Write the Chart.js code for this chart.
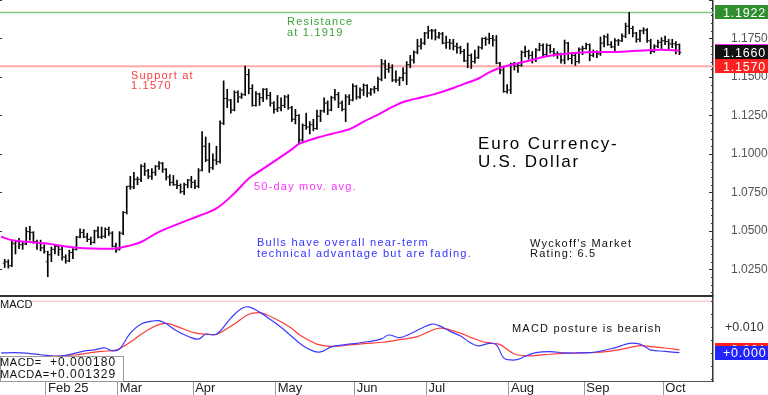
<!DOCTYPE html>
<html>
<head>
<meta charset="utf-8">
<title>Euro Currency - U.S. Dollar</title>
<script src="https://cdn.jsdelivr.net/npm/chart.js@4.4.1/dist/chart.umd.min.js"></script>
<style>
  html, body { margin: 0; padding: 0; background: #fff; }
  #wrap { width: 768px; height: 395px; }
</style>
</head>
<body>
<div id="wrap"><canvas id="chart" width="768" height="395"></canvas></div>
<script>
// Daily bars, mid-Jan to early Oct (index 0 = first bar)
const opens = [
  1.0290, 1.0298, 1.0275, 1.0415, 1.0430, 1.0410, 1.0415, 1.0495, 1.0490, 1.0430, 1.0420, 1.0390,
  1.0300, 1.0345, 1.0380, 1.0400, 1.0380, 1.0330, 1.0305, 1.0360, 1.0380, 1.0460, 1.0490, 1.0460, 1.0445, 1.0425, 1.0500, 1.0460, 1.0465, 1.0510, 1.0485, 1.0400,
  1.0380, 1.0485, 1.0620, 1.0790, 1.0785, 1.0835, 1.0835, 1.0920, 1.0890, 1.0855, 1.0880, 1.0920, 1.0940, 1.0900, 1.0850, 1.0815, 1.0800, 1.0795, 1.0755, 1.0800, 1.0830,
  1.0815, 1.0790, 1.0895, 1.1050, 1.0960, 1.0910, 1.0960, 1.0950, 1.1200, 1.1360, 1.1350, 1.1285, 1.1400, 1.1370, 1.1385, 1.1515, 1.1425, 1.1315, 1.1390, 1.1365, 1.1420, 1.1380,
  1.1330, 1.1290, 1.1300, 1.1315, 1.1370, 1.1300, 1.1225, 1.1250, 1.1090, 1.1185, 1.1175, 1.1190, 1.1165, 1.1245, 1.1280, 1.1330, 1.1285, 1.1365, 1.1385, 1.1330, 1.1290, 1.1370,
  1.1350, 1.1440, 1.1370, 1.1415, 1.1445, 1.1395, 1.1420, 1.1425, 1.1485, 1.1585, 1.1550, 1.1560, 1.1480, 1.1480, 1.1495, 1.1525, 1.1580, 1.1610, 1.1660, 1.1700, 1.1720,
  1.1785, 1.1800, 1.1800, 1.1760, 1.1780, 1.1720, 1.1725, 1.1720, 1.1700, 1.1690, 1.1665, 1.1605, 1.1640, 1.1600, 1.1625, 1.1690, 1.1750, 1.1745, 1.1750, 1.1740, 1.1590, 1.1545, 1.1405,
  1.1415, 1.1585, 1.1570, 1.1575, 1.1660, 1.1665, 1.1640, 1.1615, 1.1675, 1.1705, 1.1645, 1.1705, 1.1665, 1.1650, 1.1650, 1.1610, 1.1720, 1.1620, 1.1640, 1.1600, 1.1680,
  1.1685, 1.1710, 1.1640, 1.1660, 1.1650, 1.1720, 1.1760, 1.1710, 1.1695, 1.1735, 1.1735, 1.1765, 1.1830, 1.1815, 1.1785, 1.1745, 1.1800, 1.1805, 1.1735, 1.1665, 1.1700, 1.1725,
  1.1735, 1.1730, 1.1715, 1.1715, 1.1710
];
const highs = [
  1.0315, 1.0312, 1.0440, 1.0440, 1.0452, 1.0425, 1.0522, 1.0530, 1.0495, 1.0440, 1.0440, 1.0410,
  1.0368, 1.0395, 1.0410, 1.0405, 1.0400, 1.0345, 1.0375, 1.0385, 1.0465, 1.0513, 1.0510, 1.0485, 1.0460, 1.0505, 1.0527, 1.0525, 1.0520, 1.0525, 1.0495, 1.0420,
  1.0495, 1.0625, 1.0790, 1.0855, 1.0880, 1.0850, 1.0930, 1.0940, 1.0900, 1.0905, 1.0925, 1.0950, 1.0945, 1.0905, 1.0865, 1.0860, 1.0830, 1.0805, 1.0810, 1.0835, 1.0855,
  1.0830, 1.0905, 1.1145, 1.1110, 1.1070, 1.1000, 1.1050, 1.1215, 1.1475, 1.1420, 1.1355, 1.1410, 1.1410, 1.1395, 1.1570, 1.1550, 1.1450, 1.1405, 1.1395, 1.1425, 1.1425, 1.1400,
  1.1340, 1.1380, 1.1365, 1.1380, 1.1385, 1.1310, 1.1290, 1.1255, 1.1195, 1.1265, 1.1210, 1.1225, 1.1285, 1.1285, 1.1365, 1.1345, 1.1375, 1.1420, 1.1400, 1.1345, 1.1385, 1.1385,
  1.1455, 1.1445, 1.1430, 1.1455, 1.1450, 1.1425, 1.1440, 1.1500, 1.1615, 1.1610, 1.1590, 1.1580, 1.1540, 1.1500, 1.1560, 1.1600, 1.1640, 1.1670, 1.1745, 1.1750, 1.1790,
  1.1830, 1.1810, 1.1810, 1.1790, 1.1790, 1.1765, 1.1745, 1.1745, 1.1720, 1.1700, 1.1680, 1.1720, 1.1650, 1.1675, 1.1700, 1.1755, 1.1760, 1.1785, 1.1770, 1.1770, 1.1595, 1.1565, 1.1450,
  1.1590, 1.1595, 1.1585, 1.1670, 1.1700, 1.1675, 1.1665, 1.1685, 1.1720, 1.1715, 1.1715, 1.1710, 1.1685, 1.1665, 1.1655, 1.1740, 1.1725, 1.1660, 1.1655, 1.1690, 1.1700,
  1.1720, 1.1715, 1.1675, 1.1670, 1.1760, 1.1770, 1.1780, 1.1730, 1.1750, 1.1745, 1.1780, 1.1850, 1.1919, 1.1830, 1.1790, 1.1805, 1.1820, 1.1815, 1.1745, 1.1710, 1.1740, 1.1755,
  1.1765, 1.1745, 1.1745, 1.1730, 1.1715
];
const lows = [
  1.0262, 1.0258, 1.0268, 1.0350, 1.0385, 1.0380, 1.0410, 1.0440, 1.0420, 1.0380, 1.0370, 1.0355,
  1.0202, 1.0300, 1.0350, 1.0340, 1.0310, 1.0290, 1.0300, 1.0320, 1.0375, 1.0455, 1.0455, 1.0430, 1.0410, 1.0420, 1.0455, 1.0450, 1.0455, 1.0470, 1.0395, 1.0360,
  1.0375, 1.0475, 1.0610, 1.0770, 1.0775, 1.0800, 1.0820, 1.0860, 1.0840, 1.0835, 1.0860, 1.0900, 1.0880, 1.0830, 1.0795, 1.0795, 1.0775, 1.0745, 1.0735, 1.0780, 1.0780,
  1.0775, 1.0780, 1.0890, 1.0950, 1.0880, 1.0900, 1.0930, 1.0940, 1.1190, 1.1300, 1.1265, 1.1280, 1.1335, 1.1360, 1.1380, 1.1390, 1.1310, 1.1310, 1.1315, 1.1340, 1.1355, 1.1310,
  1.1265, 1.1275, 1.1280, 1.1300, 1.1290, 1.1210, 1.1195, 1.1065, 1.1080, 1.1160, 1.1130, 1.1150, 1.1160, 1.1210, 1.1270, 1.1255, 1.1280, 1.1350, 1.1300, 1.1280, 1.1210, 1.1320,
  1.1345, 1.1355, 1.1360, 1.1380, 1.1370, 1.1380, 1.1395, 1.1410, 1.1475, 1.1490, 1.1530, 1.1470, 1.1465, 1.1445, 1.1475, 1.1450, 1.1560, 1.1590, 1.1650, 1.1680, 1.1710,
  1.1750, 1.1745, 1.1740, 1.1750, 1.1715, 1.1685, 1.1680, 1.1675, 1.1655, 1.1650, 1.1600, 1.1560, 1.1555, 1.1590, 1.1620, 1.1680, 1.1705, 1.1715, 1.1700, 1.1585, 1.1520, 1.1400, 1.1395,
  1.1392, 1.1545, 1.1530, 1.1570, 1.1630, 1.1615, 1.1590, 1.1600, 1.1670, 1.1630, 1.1635, 1.1655, 1.1635, 1.1620, 1.1590, 1.1585, 1.1610, 1.1585, 1.1575, 1.1590, 1.1645,
  1.1680, 1.1605, 1.1630, 1.1625, 1.1640, 1.1695, 1.1705, 1.1690, 1.1660, 1.1705, 1.1730, 1.1755, 1.1780, 1.1760, 1.1725, 1.1730, 1.1780, 1.1725, 1.1650, 1.1660, 1.1690, 1.1685,
  1.1710, 1.1680, 1.1690, 1.1650, 1.1645
];
const closes = [
  1.0300, 1.0272, 1.0420, 1.0430, 1.0410, 1.0415, 1.0495, 1.0490, 1.0430, 1.0420, 1.0390, 1.0365,
  1.0345, 1.0380, 1.0400, 1.0380, 1.0330, 1.0305, 1.0360, 1.0380, 1.0460, 1.0490, 1.0460, 1.0445, 1.0425, 1.0500, 1.0460, 1.0465, 1.0510, 1.0485, 1.0400, 1.0375,
  1.0485, 1.0620, 1.0790, 1.0785, 1.0835, 1.0835, 1.0920, 1.0890, 1.0855, 1.0880, 1.0920, 1.0940, 1.0900, 1.0850, 1.0815, 1.0800, 1.0795, 1.0755, 1.0800, 1.0830, 1.0815,
  1.0790, 1.0890, 1.1050, 1.0960, 1.0910, 1.0960, 1.0950, 1.1200, 1.1360, 1.1350, 1.1285, 1.1400, 1.1370, 1.1385, 1.1515, 1.1425, 1.1315, 1.1390, 1.1365, 1.1420, 1.1380, 1.1330,
  1.1290, 1.1300, 1.1315, 1.1370, 1.1300, 1.1225, 1.1250, 1.1090, 1.1185, 1.1175, 1.1190, 1.1165, 1.1245, 1.1280, 1.1330, 1.1285, 1.1365, 1.1385, 1.1330, 1.1290, 1.1370, 1.1350,
  1.1440, 1.1370, 1.1415, 1.1445, 1.1395, 1.1420, 1.1425, 1.1485, 1.1585, 1.1550, 1.1560, 1.1480, 1.1480, 1.1495, 1.1525, 1.1580, 1.1610, 1.1660, 1.1700, 1.1720, 1.1785,
  1.1800, 1.1800, 1.1760, 1.1780, 1.1720, 1.1725, 1.1720, 1.1700, 1.1690, 1.1665, 1.1605, 1.1640, 1.1600, 1.1625, 1.1690, 1.1750, 1.1745, 1.1750, 1.1740, 1.1590, 1.1545, 1.1405, 1.1415,
  1.1585, 1.1570, 1.1575, 1.1660, 1.1665, 1.1640, 1.1615, 1.1675, 1.1705, 1.1645, 1.1705, 1.1665, 1.1650, 1.1650, 1.1610, 1.1720, 1.1620, 1.1640, 1.1600, 1.1680, 1.1685,
  1.1710, 1.1640, 1.1660, 1.1650, 1.1720, 1.1760, 1.1710, 1.1695, 1.1735, 1.1735, 1.1765, 1.1830, 1.1815, 1.1785, 1.1745, 1.1800, 1.1805, 1.1735, 1.1665, 1.1700, 1.1725, 1.1735,
  1.1730, 1.1715, 1.1715, 1.1710, 1.1660
];

// 50-day moving average at these bar indexes
const maIdx  = [-1, 2, 6, 10, 13, 17, 22, 27, 31, 34, 38, 43, 50, 54, 59, 64, 68, 71, 80, 82, 87, 91, 96, 100, 104, 108, 111, 114, 120, 124, 128, 132, 135, 138, 141, 146, 151, 157, 162, 168, 174, 179, 183, 188];
const maVals = [1.0462, 1.0440, 1.0429, 1.0422, 1.0414, 1.0398, 1.0387, 1.0384, 1.0386, 1.0400, 1.0428, 1.0494, 1.0560, 1.0597, 1.0646, 1.0745, 1.0840, 1.0888, 1.1030, 1.1065, 1.1105, 1.1130, 1.1160, 1.1210, 1.1255, 1.1305, 1.1337, 1.1356, 1.1390, 1.1420, 1.1455, 1.1490, 1.1530, 1.1560, 1.1578, 1.1605, 1.1634, 1.1652, 1.1661, 1.1662, 1.1667, 1.1673, 1.1677, 1.1670];

// MACD (blue) and MACDA signal (red)
const macdIdx  = [-1, 3, 6, 10, 14, 17, 20, 22, 25, 28, 30, 32, 35, 38, 41, 43, 45, 48, 51, 54, 56, 59, 63, 66, 68, 71, 74, 77, 80, 83, 86, 88, 91, 95, 98, 101, 105, 107, 110, 113, 116, 119, 121, 124, 127, 130, 132, 135, 137, 139, 141, 143, 145, 148, 152, 156, 160, 163, 166, 169, 171, 174, 177, 179, 180, 184, 188];
const macdVals = [0.0001, 0.0002, 0.0000, -0.0006, -0.0012, -0.0008, 0.0001, 0.0008, 0.0013, 0.0020, 0.0009, 0.0016, 0.0077, 0.0112, 0.0123, 0.0125, 0.0113, 0.0085, 0.0065, 0.0054, 0.0073, 0.0073, 0.0135, 0.0172, 0.0178, 0.0158, 0.0130, 0.0100, 0.0064, 0.0030, 0.0008, 0.0005, 0.0024, 0.0033, 0.0038, 0.0044, 0.0055, 0.0070, 0.0060, 0.0075, 0.0095, 0.0112, 0.0106, 0.0085, 0.0066, 0.0038, 0.0028, 0.0038, 0.0032, -0.0018, -0.0026, -0.0024, -0.0012, 0.0002, 0.0006, 0.0001, 0.0001, 0.0002, 0.0008, 0.0017, 0.0025, 0.0038, 0.0035, 0.0020, 0.0012, 0.0007, 0.00018];
const signalIdx  = [-1, 10, 16, 20, 24, 27, 31, 33, 36, 38, 41, 43, 45, 47, 50, 53, 56, 59, 62, 64, 68, 71, 73, 76, 78, 80, 82, 85, 87, 90, 93, 96, 100, 105, 110, 115, 118, 121, 124, 127, 130, 133, 136, 138, 141, 143, 147, 152, 157, 162, 166, 171, 175, 177, 180, 184, 188];
const signalVals = [-0.0013, -0.0013, -0.0010, -0.0006, 0.0002, 0.0007, 0.0012, 0.0025, 0.0052, 0.0073, 0.0098, 0.0110, 0.0115, 0.0108, 0.0092, 0.0078, 0.0073, 0.0073, 0.0095, 0.0112, 0.0150, 0.0156, 0.0148, 0.0128, 0.0113, 0.0095, 0.0072, 0.0048, 0.0035, 0.0027, 0.0027, 0.0032, 0.0037, 0.0042, 0.0052, 0.0064, 0.0082, 0.0096, 0.0090, 0.0077, 0.0060, 0.0045, 0.0038, 0.0033, 0.0005, -0.0007, -0.0010, -0.0004, 0.0000, 0.0002, 0.0004, 0.0013, 0.0024, 0.0029, 0.0025, 0.0020, 0.0013];

// axis labels
const monthStarts = [12, 32, 53, 76, 98, 118, 141, 162, 184];
const monthLabels = ['Feb 25', 'Mar', 'Apr', 'May', 'Jun', 'Jul', 'Aug', 'Sep', 'Oct'];
const priceTicks = [1.025, 1.05, 1.075, 1.1, 1.125, 1.15, 1.175];
const macdTicks = [0, 0.01];

// levels and last values
const resistance = 1.1919;
const support = 1.1570;
const highMark = 1.1922;
const lastClose = 1.1660;
const lastMA = 1.1668;
const lastMacd = 0.000180;
const lastMacdA = 0.001329;
const macdUpper = 0.02;

const xMin = -1.31, xMax = 197.35;

const FONT = '"Liberation Sans", Arial, sans-serif';

function putText(ctx, text, x, y, color, size, spacing) {
    ctx.font = size + 'px ' + FONT;
    ctx.letterSpacing = (spacing || 0) + 'px';
    ctx.fillStyle = color;
    ctx.textAlign = 'left';
    ctx.textBaseline = 'alphabetic';
    ctx.fillText(text, x, y);
    ctx.letterSpacing = '0px';
}

function valueBox(ctx, yPix, text, bg, left, right) {
    ctx.fillStyle = bg;
    ctx.fillRect(left, Math.round(yPix - 7), right - left, 14);
    putText(ctx, text, left + 8, Math.round(yPix + 4.5), '#fff', 12.5, 0.8);
}

const decor = {
    id: 'decor',
    afterDraw(chart) {
        const { ctx, chartArea, scales } = chart;
        const y = scales.y, ym = scales.yMacd;
        const L = chartArea.left, R = chartArea.right;
        ctx.save();

        // divider between price and MACD panes
        ctx.strokeStyle = '#333';
        ctx.lineWidth = 2;
        ctx.beginPath();
        ctx.moveTo(L, y.bottom);
        ctx.lineTo(R, y.bottom);
        ctx.stroke();

        // small ticks along the right axis
        ctx.strokeStyle = '#333';
        ctx.lineWidth = 1;
        ctx.beginPath();
        for (let v = 1.010; v < 1.2; v += 0.005) {
            const p = Math.round(y.getPixelForValue(v)) + 0.5;
            const major = Math.abs(v / 0.025 - Math.round(v / 0.025)) < 1e-6;
            ctx.moveTo(R - (major ? 4 : 2), p);
            ctx.lineTo(R, p);
            if (major) { ctx.moveTo(L, p); ctx.lineTo(L + 2, p); }
        }
        for (let v = -0.010; v < 0.022; v += 0.005) {
            const p = Math.round(ym.getPixelForValue(v)) + 0.5;
            ctx.moveTo(R - 2, p);
            ctx.lineTo(R, p);
        }
        ctx.stroke();

        // notes on the price pane
        putText(ctx, 'Resistance', 287, 25, '#3aa23a', 11, 1.2);
        putText(ctx, 'at 1.1919', 287, 35.5, '#3aa23a', 11, 1.2);
        putText(ctx, 'Support at', 131, 78.5, '#ff3b3b', 11, 1.2);
        putText(ctx, '1.1570', 131, 88.5, '#ff3b3b', 11, 1.2);
        putText(ctx, '50-day mov. avg.', 254, 190, '#ff33ff', 11, 1.2);
        putText(ctx, 'Bulls have overall near-term', 257, 246, '#3434ff', 11, 1.25);
        putText(ctx, 'technical advantage but are fading.', 257, 256.5, '#3434ff', 11, 1.25);
        putText(ctx, "Wyckoff's Market", 530, 246.7, '#111', 11, 1.2);
        putText(ctx, 'Rating: 6.5', 530, 257.3, '#111', 11, 1.2);
        putText(ctx, 'Euro Currency-', 478, 149, '#000', 17, 1.8);
        putText(ctx, 'U.S. Dollar', 478, 166.7, '#000', 17, 1.8);

        // MACD pane notes
        putText(ctx, 'MACD posture is bearish', 512, 331.7, '#111', 11, 1.2);
        ctx.fillStyle = '#fff';
        ctx.fillRect(L, y.bottom + 1, 30, 13);
        putText(ctx, 'MACD', L, 308.3, '#111', 11, 0);

        // readout box
        const bx = L, by = 356, bw = 123, bh = ym.bottom - by;
        ctx.fillStyle = '#fff';
        ctx.fillRect(bx, by, bw, bh);
        ctx.strokeStyle = '#9a9a9a';
        ctx.lineWidth = 1;
        ctx.strokeRect(bx + 0.5, by + 0.5, bw, bh);
        putText(ctx, 'MACD=', bx, 366, '#111', 11, 0.6);
        putText(ctx, 'MACDA=', bx, 377.5, '#111', 11, 0.6);
        putText(ctx, '+0.000180', bx + 50, 366, '#111', 12, 1);
        putText(ctx, '+0.001329', bx + 50, 377.5, '#111', 12, 1);

        // value boxes on the right axis
        const bl = R + 2, br = chart.width;
        valueBox(ctx, y.getPixelForValue(highMark), highMark.toFixed(4), '#2f8f2f', bl, br);
        valueBox(ctx, y.getPixelForValue(lastMA), lastMA.toFixed(4), '#ff22ff', bl, br);
        valueBox(ctx, y.getPixelForValue(lastClose), lastClose.toFixed(4), '#111', bl, br);
        valueBox(ctx, y.getPixelForValue(support), support.toFixed(4), '#ff2020', bl, br);
        valueBox(ctx, ym.getPixelForValue(lastMacdA), '+' + lastMacdA.toFixed(3), '#ff2020', bl, br);
        valueBox(ctx, ym.getPixelForValue(lastMacd), '+' + lastMacd.toFixed(3), '#2424ff', bl, br);

        ctx.restore();
    }
};

const pts = (xs, ys) => xs.map((x, k) => ({ x: x, y: ys[k] }));
const flat = (v) => [{ x: xMin, y: v }, { x: xMax, y: v }];

const noPad = (s) => { s.paddingTop = 0; s.paddingBottom = 0; s.paddingLeft = 0; s.paddingRight = 0; };

new Chart(document.getElementById('chart'), {
    type: 'line',
    data: {
        datasets: [
            {
                // 50-day MA
                type: 'line', data: pts(maIdx, maVals), yAxisID: 'y',
                borderColor: '#ff00ff', borderWidth: 2, pointRadius: 0, tension: 0.4
            },
            {
                // open ticks
                type: 'scatter', yAxisID: 'y',
                data: opens.map((o, i) => ({ x: i - 0.28, y: o })),
                pointStyle: 'line', pointRadius: 1, pointBorderWidth: 1,
                borderColor: '#222', backgroundColor: '#222', showLine: false
            },
            {
                // close ticks
                type: 'scatter', yAxisID: 'y',
                data: closes.map((c, i) => ({ x: i + 0.28, y: c })),
                pointStyle: 'line', pointRadius: 1, pointBorderWidth: 1,
                borderColor: '#222', backgroundColor: '#222', showLine: false
            },
            {
                // high-low range
                type: 'bar', yAxisID: 'y',
                data: lows.map((l, i) => ({ x: i, y: [l, highs[i]] })),
                backgroundColor: '#000', borderWidth: 0, barThickness: 1
            },
            {
                type: 'line', data: flat(resistance), yAxisID: 'y',
                borderColor: '#86c886', borderWidth: 1.5, pointRadius: 0
            },
            {
                type: 'line', data: flat(support), yAxisID: 'y',
                borderColor: '#ffaaaa', borderWidth: 2, pointRadius: 0
            },
            {
                type: 'line', data: pts(macdIdx, macdVals), yAxisID: 'yMacd',
                borderColor: '#3a3aff', borderWidth: 1.2, pointRadius: 0, tension: 0.4
            },
            {
                type: 'line', data: pts(signalIdx, signalVals), yAxisID: 'yMacd',
                borderColor: '#ff3a3a', borderWidth: 1.2, pointRadius: 0, tension: 0.4
            },
            {
                type: 'line', data: flat(macdUpper), yAxisID: 'yMacd',
                borderColor: '#ffb4b4', borderWidth: 1, pointRadius: 0
            }
        ]
    },
    options: {
        responsive: false,
        devicePixelRatio: 1,
        animation: false,
        events: [],
        layout: { padding: 0, autoPadding: false },
        plugins: { legend: { display: false }, tooltip: { enabled: false } },
        scales: {
            x: {
                type: 'linear', position: 'bottom', min: xMin, max: xMax, offset: false,
                afterBuildTicks: (s) => { s.ticks = monthStarts.map(v => ({ value: v - 0.5 })); },
                afterFit: (s) => { s.height = 14; noPad(s); },
                grid: { drawOnChartArea: false, drawTicks: true, tickLength: 14, color: '#9a9a9a', offset: false },
                border: { display: true, color: '#555', width: 1 },
                ticks: {
                    autoSkip: false, maxRotation: 0, minRotation: 0, align: 'start', labelOffset: 2,
                    padding: -14, color: '#222', font: { family: FONT, size: 13 },
                    callback: (v, i) => monthLabels[i]
                }
            },
            y: {
                type: 'linear', position: 'right', stack: 'panes', stackWeight: 296,
                min: 1.0077, max: 1.2, beginAtZero: false,
                afterBuildTicks: (s) => { s.ticks = priceTicks.map(v => ({ value: v })); },
                afterFit: (s) => { s.width = 55; noPad(s); },
                grid: { display: false },
                border: { display: true, color: '#333', width: 1.5 },
                ticks: { padding: 10, color: '#555', font: { family: FONT, size: 12 }, callback: v => v.toFixed(4) }
            },
            yMacd: {
                type: 'linear', position: 'right', stack: 'panes', stackWeight: 85,
                min: -0.0107, max: 0.022, beginAtZero: false,
                afterBuildTicks: (s) => { s.ticks = macdTicks.map(v => ({ value: v })); },
                afterFit: (s) => { s.width = 55; noPad(s); },
                grid: { display: false },
                border: { display: true, color: '#333', width: 1.5 },
                ticks: { padding: 4, color: '#333', font: { family: FONT, size: 12.5 }, callback: v => '+' + v.toFixed(3) }
            }
        }
    },
    plugins: [decor]
});
</script>
</body>
</html>
